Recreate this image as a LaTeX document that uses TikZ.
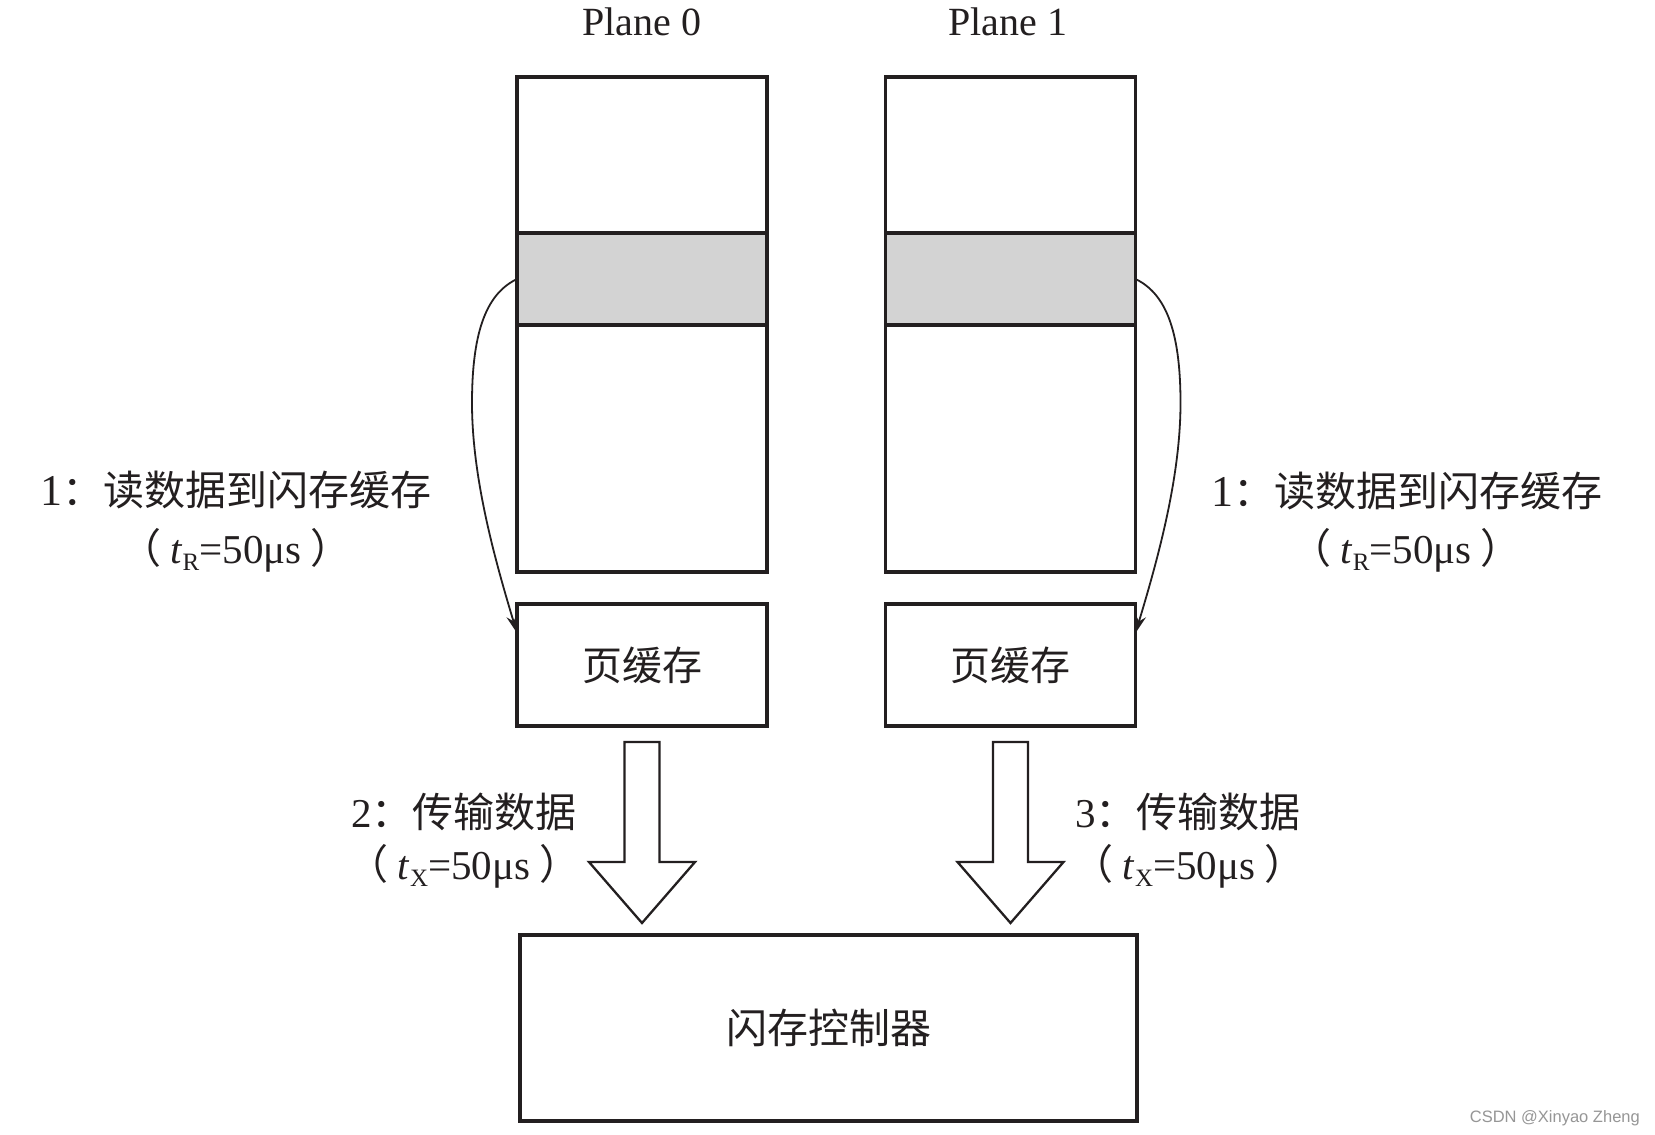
\documentclass[tikz,border=0pt]{standalone}
\usepackage{fontspec}
\setmainfont{Liberation Serif}
\newfontfamily\cjk{Noto Sans CJK SC}
\newfontfamily\wmfont{Liberation Sans}
\usetikzlibrary{calc,arrows.meta}
\definecolor{ink}{RGB}{35,31,32}
\definecolor{bandgray}{RGB}{211,211,211}
\definecolor{wmgray}{RGB}{150,150,150}
\newcommand{\sz}[1]{\fontsize{#1}{#1}\selectfont}
\newcommand{\tsub}[2]{\textit{#1}\raisebox{-7pt}{\fontsize{25}{25}\selectfont #2}}
\newcommand{\lp}{{\cjk （}\hspace{9pt}}
\newcommand{\rp}{\hspace{9pt}{\cjk ）}}
\begin{document}
\begin{tikzpicture}[x=1pt,y=-1pt,
  box/.style={draw=ink,line width=3.5pt,outer sep=0pt,inner sep=0pt},
  hollow/.style={draw=ink,line width=2.3pt,fill=white,line join=miter},
  curvearrow/.style={draw=ink,line width=1.8pt,-{Stealth[length=18pt,width=11pt]}},
  lbl/.style={text=ink,inner sep=0pt,anchor=base}]
\fill[white] (0,0) rectangle (1655,1135);
\useasboundingbox (0,0) rectangle (1655,1135);

% planes
\node[box,minimum width=250pt,minimum height=495pt] (plane0) at (642,324.5) {};
\node[box,fill=bandgray,minimum width=250pt,minimum height=92pt] (band0) at (642,279) {};
\node[box,minimum width=250pt,minimum height=495pt] (plane1) at (1010.5,324.5) {};
\node[box,fill=bandgray,minimum width=250pt,minimum height=92pt] (band1) at (1010.5,279) {};

% page buffers
\node[box,minimum width=250pt,minimum height=122pt,text=ink,font=\cjk\sz{40}] (buf0) at (642,665) {页缓存};
\node[box,minimum width=250pt,minimum height=122pt,text=ink,font=\cjk\sz{40}] (buf1) at (1010.5,665) {页缓存};

% controller
\node[box,minimum width=617pt,minimum height=186pt,text=ink,font=\cjk\sz{41}] (ctrl) at (828.5,1028) {闪存控制器};

% plane titles
\node[lbl,font=\sz{40}] (p0t) at (642,35) {Plane 0};
\node[lbl,font=\sz{40}] (p1t) at (1008,35) {Plane 1};

% curved arrows
\draw[curvearrow] (band0.west) .. controls ($(band0.west)+(-29,14)$) and ($(band0.west)+(-45,49)$) .. ($(band0.west)+(-45,124)$) .. controls ($(band0.west)+(-45,199)$) and ($(buf0.north west)+(-22,-44)$) .. ($(buf0.north west)+(0,29)$);
\draw[curvearrow] (band1.east) .. controls ($(band1.east)+(29,14)$) and ($(band1.east)+(45,49)$) .. ($(band1.east)+(45,124)$) .. controls ($(band1.east)+(45,199)$) and ($(buf1.north east)+(22,-44)$) .. ($(buf1.north east)+(0,29)$);

% hollow arrows
\draw[hollow] ($(buf0.south)+(-17.5,16)$) -- ($(buf0.south)+(17.5,16)$) -- ($(buf0.south)+(17.5,136)$) -- ($(buf0.south)+(53,136)$) -- ($(buf0.south)+(0,197)$) -- ($(buf0.south)+(-53,136)$) -- ($(buf0.south)+(-17.5,136)$) -- cycle;
\draw[hollow] ($(buf1.south)+(-17.5,16)$) -- ($(buf1.south)+(17.5,16)$) -- ($(buf1.south)+(17.5,136)$) -- ($(buf1.south)+(53,136)$) -- ($(buf1.south)+(0,197)$) -- ($(buf1.south)+(-53,136)$) -- ($(buf1.south)+(-17.5,136)$) -- cycle;

% labels
\node[lbl,font=\sz{41}] (l1a) at (236,505) {\sz{44}1{\cjk\sz{41}：读数据到闪存缓存}};
\node[lbl,font=\sz{41}] (l1b) at (236,563) {\lp\tsub{t}{R}=50μs\rp};
\node[lbl,font=\sz{41}] (r1a) at (1407,506) {\sz{44}1{\cjk\sz{41}：读数据到闪存缓存}};
\node[lbl,font=\sz{41}] (r1b) at (1406,563) {\lp\tsub{t}{R}=50μs\rp};
\node[lbl,font=\sz{41}] (l2a) at (464,827) {2{\cjk ：传输数据}};
\node[lbl,font=\sz{41}] (l2b) at (464,879) {\lp\tsub{t}{X}=50μs\rp};
\node[lbl,font=\sz{41}] (l3a) at (1188,827) {3{\cjk ：传输数据}};
\node[lbl,font=\sz{41}] (l3b) at (1189,879) {\lp\tsub{t}{X}=50μs\rp};

% watermark
\node[anchor=base east,inner sep=0pt,text=wmgray,font=\wmfont\sz{16.5}] (wm) at (1640,1122) {CSDN @Xinyao Zheng};
\end{tikzpicture}
\end{document}
